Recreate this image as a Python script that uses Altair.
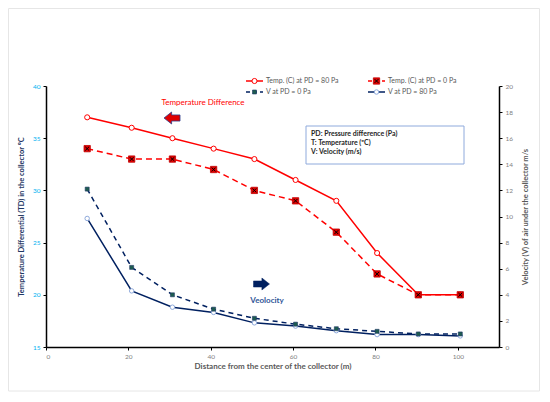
import altair as alt
import pandas as pd

# ---------------- data ----------------
distance = [10, 20.8, 30.7, 40.7, 50.6, 60.6, 70.5, 80.4, 90.4, 100.6]
temp_pd80 = [37, 36, 35, 34, 33, 31, 29, 24, 20, 20]
temp_pd0 = [34, 33, 33, 32, 30, 29, 26, 22, 20, 20]
vel_pd0 = [12.1, 6.1, 4.0, 2.9, 2.2, 1.75, 1.4, 1.2, 1.0, 1.0]
vel_pd80 = [9.85, 4.3, 3.05, 2.65, 1.85, 1.6, 1.25, 0.95, 0.95, 0.85]

x_ticks = [0, 20, 40, 60, 80, 100]
temp_ticks = [15, 20, 25, 30, 35, 40]
vel_ticks = [0, 2, 4, 6, 8, 10, 12, 14, 16, 18, 20]

legend_labels = ["Temp. (C) at PD = 80 Pa", "Temp. (C) at PD = 0 Pa",
                 "V at PD = 0 Pa", "V at PD = 80 Pa"]
note_lines = ["PD: Pressure difference (Pa)", "T: Temperature  (\u00baC)", "V: Velocity (m/s)"]
annotations = ["Temperature Difference", "Veolocity"]
x_title = "Distance from the center of the collector (m)"
temp_title = "Temperature Differential (TD) in the collector \u00baC"
vel_title = "Velocity (V) of air under the collector m/s"

df = pd.DataFrame({"distance": distance, "temp80": temp_pd80, "temp0": temp_pd0,
                   "vel0": vel_pd0, "vel80": vel_pd80})
one = pd.DataFrame({"k": [0]})

FONT = "Lato"
RED = "#FF0000"
NAVY = "#002060"
W, H = 453, 261

axis_x = alt.Axis(values=x_ticks, grid=False, labelColor="#7F7F7F", labelFontSize=6.5,
                  labelPadding=3, tickSize=3, tickColor="black", domainColor="black",
                  domainWidth=1.5, title=x_title, titleColor="#595959", titleFontSize=8,
                  titleFontWeight="bold", titlePadding=3, labelFont=FONT, titleFont=FONT)
axis_t = alt.Axis(values=temp_ticks, orient="left", grid=False, labelColor="#00B0F0",
                  labelFontSize=6.5, labelPadding=3, tickSize=3, tickColor="black",
                  domainColor="black", domainWidth=1.5, title=temp_title,
                  titleColor="#1F3864", titleFontSize=7.5, titleFontWeight="bold",
                  titlePadding=7, labelFont=FONT, titleFont=FONT)
axis_v = alt.Axis(values=vel_ticks, orient="right", grid=False, labelColor="#7F7F7F",
                  labelFontSize=6.5, labelPadding=3, tickSize=3, tickColor="black",
                  domainColor="black", domainWidth=1.5, title=vel_title,
                  titleColor="#595959", titleFontSize=7.5, titleFontWeight="bold",
                  titleAngle=270, titleBaseline="top",
                  titlePadding=9, labelFont=FONT, titleFont=FONT)

xscale = alt.Scale(domain=[0, 110], nice=False, zero=False)
tscale = alt.Scale(domain=[15, 40], nice=False, zero=False)
vscale = alt.Scale(domain=[0, 20], nice=False, zero=False)


def X():
    return alt.X("distance:Q", scale=xscale, axis=axis_x)


def YT(f):
    return alt.Y(f"{f}:Q", scale=tscale, axis=axis_t)


def YV(f):
    return alt.Y(f"{f}:Q", scale=vscale, axis=axis_v)


XSHAPE = "M-1,-1L1,1M-1,1L1,-1"


def circle_red(data=df):
    return alt.Chart(data).mark_point(shape="circle", filled=True, fill="white", stroke=RED,
                                      strokeWidth=1, size=26, opacity=1)


def sq_red(data=df):
    return alt.Chart(data).mark_point(shape="square", filled=True, fill="#E00000",
                                      stroke="#C00000", strokeWidth=0.8, size=40, opacity=1)


def x_black(data=df):
    return alt.Chart(data).mark_point(shape=XSHAPE, filled=False, stroke="black",
                                      strokeWidth=1, size=14, opacity=1)


def sq_teal(data=df):
    return alt.Chart(data).mark_point(shape="square", filled=True, fill="#1E5C50",
                                      stroke="#1F3864", strokeWidth=0.6, size=16, opacity=1)


def circle_blue(data=df):
    return alt.Chart(data).mark_point(shape="circle", filled=True, fill="white",
                                      stroke="#8FAADC", strokeWidth=1, size=20, opacity=1)


# ---------------- temperature group (left axis) ----------------
t80_line = alt.Chart(df).mark_line(color=RED, strokeWidth=1.5).encode(x=X(), y=YT("temp80"))
t0_line = alt.Chart(df).mark_line(color=RED, strokeWidth=1.5, strokeDash=[6, 4]).encode(x=X(), y=YT("temp0"))
t80_pts = circle_red().encode(x=X(), y=YT("temp80"))
t0_sq = sq_red().encode(x=X(), y=YT("temp0"))
t0_x = x_black().encode(x=X(), y=YT("temp0"))
temp_group = alt.layer(t0_line, t80_line, t80_pts, t0_sq, t0_x)

# ---------------- velocity group (right axis) ----------------
v0_line = alt.Chart(df).mark_line(color=NAVY, strokeWidth=1.5, strokeDash=[5, 4]).encode(x=X(), y=YV("vel0"))
v80_line = alt.Chart(df).mark_line(color=NAVY, strokeWidth=1.5).encode(x=X(), y=YV("vel80"))
v80_pts = circle_blue().encode(x=X(), y=YV("vel80"))
v0_pts = sq_teal().encode(x=X(), y=YV("vel0"))
vel_group = alt.layer(v80_line, v0_line, v80_pts, v0_pts)

# ---------------- decorations (pixel positioned) ----------------
frame = alt.Chart(one).mark_rect(filled=False, stroke="#E6E6E6", strokeWidth=1).encode(
    x=alt.value(-37.5), x2=alt.value(493.5), y=alt.value(-77.5), y2=alt.value(305))

box = alt.Chart(one).mark_rect(fill="white", stroke="#8FAADC", strokeWidth=1).encode(
    x=alt.value(260), x2=alt.value(418), y=alt.value(40), y2=alt.value(78))
box_text = []
for i, line in enumerate(note_lines):
    box_text.append(
        alt.Chart(pd.DataFrame({"t": [line]})).mark_text(
            align="left", baseline="middle", font=FONT, fontSize=7, fontWeight="bold",
            color="#262626").encode(x=alt.value(265), y=alt.value(47.5 + 9.3 * i), text="t:N"))

ann_td = alt.Chart(pd.DataFrame({"t": [annotations[0]]})).mark_text(
    align="center", baseline="middle", font=FONT, fontSize=8, color=RED).encode(
    x=alt.value(157), y=alt.value(17), text="t:N")
ann_v = alt.Chart(pd.DataFrame({"t": [annotations[1]]})).mark_text(
    align="center", baseline="middle", font=FONT, fontSize=8, fontWeight="bold",
    color="#2F5597").encode(x=alt.value(221), y=alt.value(215), text="t:N")

LEFT_ARROW = "M1,-0.38L-0.05,-0.38L-0.05,-0.75L-1,0L-0.05,0.75L-0.05,0.38L1,0.38Z"
RIGHT_ARROW = "M-1,-0.38L0.05,-0.38L0.05,-0.75L1,0L0.05,0.75L0.05,0.38L-1,0.38Z"
arrow_red = alt.Chart(one).mark_point(shape=LEFT_ARROW, filled=True, fill="#E00000",
                                      stroke="#2F3E8C", strokeWidth=0.8, size=256, opacity=1).encode(
    x=alt.value(126), y=alt.value(32))
arrow_navy = alt.Chart(one).mark_point(shape=RIGHT_ARROW, filled=True, fill=NAVY,
                                       stroke=NAVY, strokeWidth=0.5, size=256, opacity=1).encode(
    x=alt.value(215.5), y=alt.value(198))


def legend_item(label, x0, yy, color, dash, markers):
    layers = []
    rule_kw = dict(color=color, strokeWidth=1.5)
    if dash:
        rule_kw["strokeDash"] = dash
    layers.append(alt.Chart(one).mark_rule(**rule_kw).encode(
        x=alt.value(x0), x2=alt.value(x0 + 17), y=alt.value(yy)))
    for m in markers:
        layers.append(m.encode(x=alt.value(x0 + 8.5), y=alt.value(yy)))
    layers.append(alt.Chart(pd.DataFrame({"t": [label]})).mark_text(
        align="left", baseline="middle", font=FONT, fontSize=7, color="#595959").encode(
        x=alt.value(x0 + 20), y=alt.value(yy), text="t:N"))
    return layers


leg = []
leg += legend_item(legend_labels[0], 200, -5, RED, None, [circle_red(one)])
leg += legend_item(legend_labels[1], 322, -5, RED, [4, 3], [sq_red(one), x_black(one)])
leg += legend_item(legend_labels[2], 200, 6, NAVY, [4, 3], [sq_teal(one)])
leg += legend_item(legend_labels[3], 322, 6, NAVY, None, [circle_blue(one)])

deco_group = alt.layer(box, *box_text, ann_td, ann_v, arrow_red, arrow_navy, *leg)

chart = alt.layer(frame, temp_group, vel_group, deco_group).resolve_scale(
    y="independent").properties(
    width=W, height=H,
    padding={"left": 38, "top": 78, "right": 41, "bottom": 45},
    autosize=alt.AutoSizeParams(type="none"),
    background="white",
).configure_view(stroke=None)

chart.save("out.html", embed_options={"renderer": "svg", "actions": False})
